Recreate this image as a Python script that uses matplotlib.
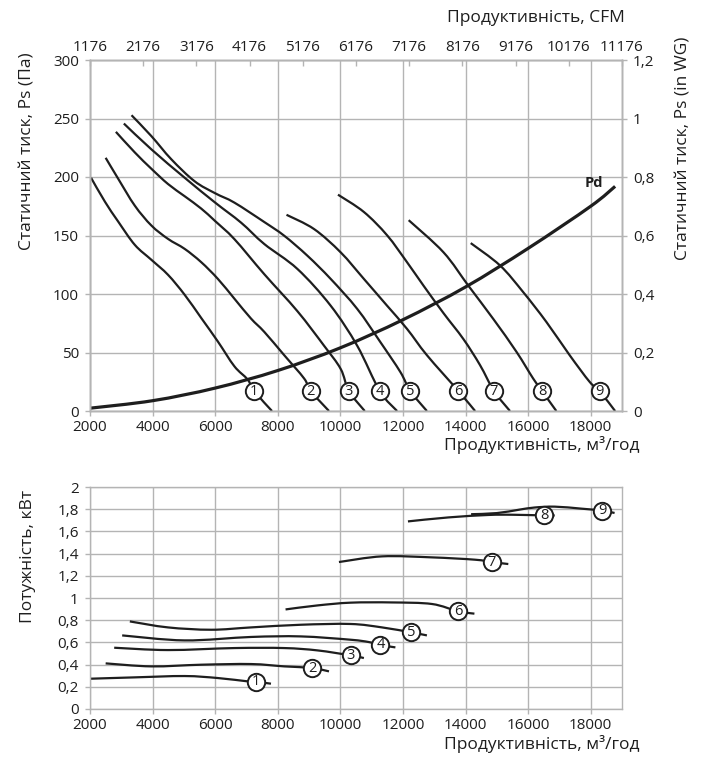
import matplotlib
matplotlib.use('Agg')
import matplotlib.pyplot as plt
from matplotlib.path import Path
from matplotlib.patches import PathPatch

plt.rcParams['font.family'] = ['Open Sans', 'DejaVu Sans']

# Static pressure curves, Pa (x in m3/h); the second to last point is where the number sits
ps_x = [
    [2032, 2477, 2901, 3432, 3963, 4493, 5023, 5554, 6083, 6614, 7038, 7250, 7815],
    [2500, 2901, 3432, 3963, 4493, 5023, 5554, 6083, 6614, 7145, 7570, 8206, 8842, 9055, 9637],
    [2827, 3432, 3963, 4493, 5023, 5554, 6000, 6614, 7570, 8628, 9479, 10010, 10274, 10780],
    [3082, 3963, 5023, 6000, 6827, 7570, 8628, 9691, 10538, 11260, 11813],
    [3327, 3963, 4600, 5341, 6000, 6614, 7570, 8206, 8948, 9691, 10538, 11281, 11918, 12236, 12766],
    [8279, 9160, 10010, 10752, 11493, 12130, 12766, 13774, 14306],
    [9924, 10752, 11493, 12130, 12661, 13297, 13934, 14464, 14911, 15420],
    [12183, 13297, 14093, 14889, 15630, 16160, 16446, 16902],
    [14166, 15102, 15843, 16584, 17327, 17963, 18283, 18780],
]
ps_y = [
    [199.4, 178.9, 161.9, 142, 129.2, 116.4, 99.4, 79.5, 59.5, 38.2, 26.9, 17, 0],
    [216.4, 198.5, 175.5, 158.5, 147.1, 138.6, 127.2, 113, 96, 79, 67.6, 47.7, 27.8, 17, 0],
    [238.6, 221, 207, 194, 183.6, 173, 162.3, 146.9, 116.9, 85.3, 55.8, 36, 17, 0],
    [245.7, 223.6, 199.4, 178.1, 161, 142.7, 121.4, 90, 55.8, 17, 0],
    [252.8, 234.9, 215.1, 196.4, 186.1, 178.1, 161.5, 149.8, 132.7, 112.9, 87.3, 58.8, 33.3, 17, 0],
    [167.7, 155.5, 135.6, 112.9, 90, 70.2, 47.7, 17, 0],
    [184.9, 170.1, 150.2, 127.2, 107, 83.6, 61.4, 39.2, 17, 0],
    [163.1, 135.6, 107, 78.6, 50.5, 27.8, 17, 0],
    [143.5, 124.4, 101.6, 76.1, 47.7, 25, 17, 0],
]

# dynamic pressure, read at the grid lines
pd_x = [2000, 4000, 6000, 8000, 10000, 12000, 14000, 16000, 18000, 18780]
pd_y = [2.4, 8.8, 19.6, 34.6, 54, 78, 106, 139, 175, 192]

# power, kW
pw_x = [
    [2032, 3432, 5023, 6083, 7038, 7304, 7783],
    [2500, 3963, 5554, 7145, 8206, 9108, 9637],
    [2773, 4493, 6614, 8206, 9267, 10330, 10752],
    [3028, 5023, 7145, 8736, 10330, 10911, 11281, 11759],
    [3273, 4493, 5873, 7145, 8736, 10330, 11334, 12270, 12766],
    [8249, 9267, 10330, 11653, 12926, 13774, 14284],
    [9955, 11334, 12926, 14306, 14836, 15367],
    [12160, 13455, 14730, 15500, 16509, 16850],
    [14178, 15000, 15700, 16200, 16850, 17700, 18360, 18763],
]
pw_y = [
    [0.273, 0.285, 0.297, 0.279, 0.249, 0.245, 0.228],
    [0.411, 0.384, 0.399, 0.405, 0.384, 0.369, 0.339],
    [0.552, 0.531, 0.549, 0.549, 0.528, 0.483, 0.459],
    [0.663, 0.618, 0.649, 0.654, 0.624, 0.603, 0.577, 0.555],
    [0.789, 0.735, 0.714, 0.735, 0.759, 0.766, 0.735, 0.690, 0.663],
    [0.897, 0.933, 0.958, 0.960, 0.946, 0.879, 0.859],
    [1.324, 1.375, 1.366, 1.345, 1.324, 1.306],
    [1.690, 1.726, 1.748, 1.750, 1.744, 1.744],
    [1.755, 1.765, 1.795, 1.815, 1.823, 1.805, 1.787, 1.766],
]

x_ticks = [2000, 4000, 6000, 8000, 10000, 12000, 14000, 16000, 18000]
cfm_ticks = [1176, 2176, 3176, 4176, 5176, 6176, 7176, 8176, 9176, 10176, 11176]
ps_ticks = [0, 50, 100, 150, 200, 250, 300]
wg_ticks = [0, 0.2, 0.4, 0.6, 0.8, 1, 1.2]
pw_ticks = [0, 0.2, 0.4, 0.6, 0.8, 1, 1.2, 1.4, 1.6, 1.8, 2]

LINE = '#1e1e1e'
GRID = '#b4b4b4'
TXT = '#1e1e1e'
FS = 11     # tick labels
LFS = 12.5  # axis titles


def comma(v):
    return f'{v:g}'.replace('.', ',')


def style(ax):
    ax.grid(color=GRID, lw=1)
    ax.set_axisbelow(True)
    for s in ax.spines.values():
        s.set_color(GRID)
        s.set_linewidth(1)
    ax.tick_params(colors=GRID, labelcolor=TXT, labelsize=FS, length=3.5, width=1)
    ax.tick_params(axis='x', pad=3)
    ax.tick_params(axis='y', pad=4.5)


def smooth(ax, xs, ys, lw):
    # smooth curve through the read points (Catmull-Rom as cubic Bezier)
    pts = list(zip(xs, ys))
    n = len(pts)
    verts = [pts[0]]
    codes = [Path.MOVETO]
    for i in range(n - 1):
        p0 = pts[max(i - 1, 0)]
        p1 = pts[i]
        p2 = pts[i + 1]
        p3 = pts[min(i + 2, n - 1)]
        c1 = (p1[0] + (p2[0] - p0[0]) / 6, p1[1] + (p2[1] - p0[1]) / 6)
        c2 = (p2[0] - (p3[0] - p1[0]) / 6, p2[1] - (p3[1] - p1[1]) / 6)
        verts += [c1, c2, p2]
        codes += [Path.CURVE4] * 3
    ax.add_patch(PathPatch(Path(verts, codes), fill=False, ec=LINE, lw=lw, capstyle='butt'))


def mark(ax, x, y, n):
    ax.plot(x, y, 'o', ms=12.5, mfc='white', mec=LINE, mew=1.4, zorder=5)
    ax.text(x, y, str(n), ha='center', va='center', fontsize=10.5, color=LINE, zorder=6)


fig = plt.figure(figsize=(7.04, 7.62), dpi=100)

# top chart
ax1 = fig.add_axes([90 / 704, 1 - 411 / 762, 532 / 704, 351 / 762])
ax1.set_xlim(2000, 19000)
ax1.set_ylim(0, 300)
ax1.set_xticks(x_ticks)
ax1.set_yticks(ps_ticks)
style(ax1)

for i in range(len(ps_x)):
    smooth(ax1, ps_x[i], ps_y[i], 1.6)
    mark(ax1, ps_x[i][-2], ps_y[i][-2], i + 1)
smooth(ax1, pd_x, pd_y, 2.3)
ax1.text(18100, 195, 'Pd', fontweight='bold', ha='center', va='center', fontsize=10.5, color=LINE)

ax_wg = ax1.twinx()
ax_wg.set_ylim(0, 1.2)
ax_wg.set_yticks(wg_ticks)
ax_wg.set_yticklabels([comma(v) for v in wg_ticks])
style(ax_wg)
ax_wg.grid(False)

ax_cfm = ax1.twiny()
ax_cfm.set_xlim(cfm_ticks[0], cfm_ticks[-1])
ax_cfm.set_xticks(cfm_ticks)
style(ax_cfm)
ax_cfm.grid(False)
ax_cfm.tick_params(direction='in', length=4, pad=3.5)

fig.text(625 / 704, 1 - 18 / 762, 'Продуктивність, CFM', ha='right', va='center', fontsize=LFS, color=TXT)
fig.text(640 / 704, 1 - 445 / 762, 'Продуктивність, м³/год', ha='right', va='center', fontsize=LFS, color=TXT)
fig.text(28 / 704, 1 - 151 / 762, 'Статичний тиск, Ps (Па)', rotation=90, ha='center', va='center', fontsize=LFS, color=TXT)
fig.text(683 / 704, 1 - 148 / 762, 'Статичний тиск, Ps (in WG)', rotation=90, ha='center', va='center', fontsize=LFS, color=TXT)

# bottom chart
ax2 = fig.add_axes([90 / 704, 1 - 709 / 762, 532 / 704, 222 / 762])
ax2.set_xlim(2000, 19000)
ax2.set_ylim(0, 2)
ax2.set_xticks(x_ticks)
ax2.set_yticks(pw_ticks)
ax2.set_yticklabels([comma(v) for v in pw_ticks])
style(ax2)

for i in range(len(pw_x)):
    smooth(ax2, pw_x[i], pw_y[i], 1.6)
    mark(ax2, pw_x[i][-2], pw_y[i][-2], i + 1)

fig.text(640 / 704, 1 - 744 / 762, 'Продуктивність, м³/год', ha='right', va='center', fontsize=LFS, color=TXT)
fig.text(28 / 704, 1 - 556 / 762, 'Потужність, кВт', rotation=90, ha='center', va='center', fontsize=LFS, color=TXT)

fig.savefig('out.png', dpi=100)
